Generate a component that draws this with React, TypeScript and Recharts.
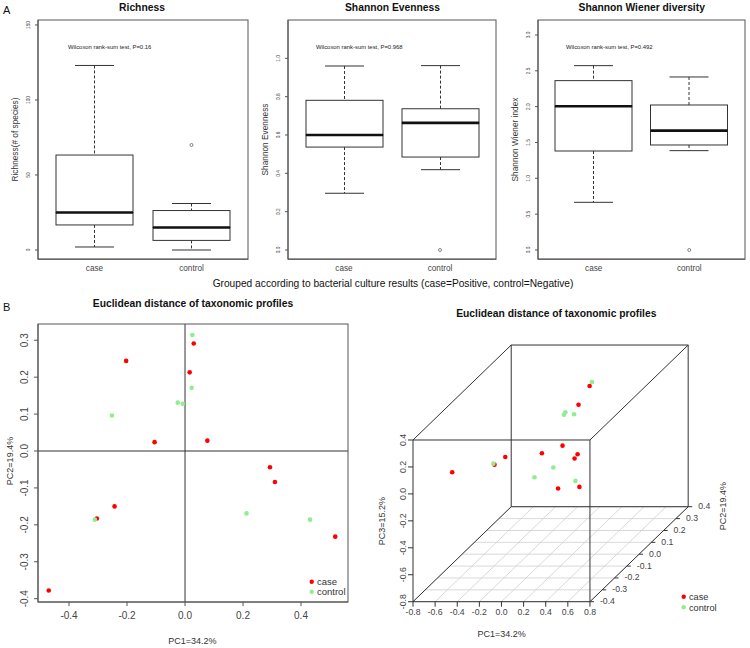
import React from 'react';
import {
  ComposedChart,
  ScatterChart,
  Bar,
  Scatter,
  XAxis,
  YAxis,
  ReferenceLine,
  Legend,
} from 'recharts';

const FONT = '"Liberation Sans", Arial, Helvetica, sans-serif';
const FRAME = '#555';
const INK = '#333';
const TICK_INK = '#444';
const CASE_COLOR = '#ff0000';
const CONTROL_COLOR = '#90ee90';

const groups = ['case', 'control'];

// boxplot stats per group: [lower whisker, Q1, median, Q3, upper whisker]
const richnessCase = [2, 16.7, 25, 63.3, 123];
const richnessControl = [0, 6.4, 15, 26.3, 31];
const richnessOutliers = [null, 70];
const richnessTicks = [0, 50, 100, 150];

const evennessCase = [0.296, 0.537, 0.6, 0.781, 0.96];
const evennessControl = [0.419, 0.485, 0.663, 0.737, 0.962];
const evennessOutliers = [null, 0];
const evennessTicks = [0, 0.2, 0.4, 0.6, 0.8, 1.0];

const wienerCase = [0.665, 1.381, 2.005, 2.363, 2.572];
const wienerControl = [1.386, 1.465, 1.665, 2.023, 2.414];
const wienerOutliers = [null, 0];
const wienerTicks = [0, 0.5, 1, 1.5, 2, 2.5, 3];

const pValues = ['0.16', '0.968', '0.492'];

// PCoA coordinates (PC1, PC2, PC3) per sample
const casePC1 = [-0.203, 0.03, 0.016, -0.105, 0.077, 0.293, 0.31, -0.243, -0.304, 0.518, -0.47];
const casePC2 = [0.244, 0.291, 0.213, 0.024, 0.028, -0.044, -0.084, -0.15, -0.183, -0.232, -0.378];
const casePC3 = [-0.527, 0.192, 0.122, -0.072, -0.019, -0.019, -0.016, 0.054, 0.026, -0.096, 0.141];

const controlPC1 = [0.025, 0.023, -0.025, -0.008, -0.252, -0.311, 0.212, 0.431];
const controlPC2 = [0.314, 0.171, 0.131, 0.128, 0.096, -0.186, -0.169, -0.186];
const controlPC3 = [0.201, 0.088, 0.12, 0.141, -0.313, 0.036, -0.008, -0.092];

const pc1Ticks = [-0.4, -0.2, 0, 0.2, 0.4];
const pc2Ticks = [-0.4, -0.3, -0.2, -0.1, 0, 0.1, 0.2, 0.3];
const pc1Ticks3d = [-0.8, -0.6, -0.4, -0.2, 0, 0.2, 0.4, 0.6, 0.8];
const pc2Ticks3d = [-0.4, -0.3, -0.2, -0.1, 0, 0.1, 0.2, 0.3, 0.4];
const pc3Ticks3d = [-0.8, -0.6, -0.4, -0.2, 0, 0.2, 0.4];

const fmt1 = (v: number) => v.toFixed(1);
const fmtInt = (v: number) => String(v);

// oblique projection used by the 3D box (depth = PC2)
const DU = 1.11;
const DV = 0.881;
const X3 = [-0.8, 0.8];
const Y3 = [-0.4, 0.4];
const Z3 = [-0.8, 0.4];
const proj = (x: number, y: number, z: number) => ({ u: x + (y - Y3[0]) * DU, v: z + (y - Y3[0]) * DV });

const RotTick = (props: any) => {
  const { x, y, payload, size, fmt } = props;
  return (
    <text x={x} y={y} transform={`rotate(-90 ${x} ${y})`} textAnchor="middle" fontSize={size} fill={TICK_INK} fontFamily={FONT}>
      {fmt(payload.value)}
    </text>
  );
};

const FlatTick = (props: any) => {
  const { x, y, payload, size, fmt } = props;
  return (
    <text x={x} y={y} dy="0.71em" textAnchor="middle" fontSize={size} fill={TICK_INK} fontFamily={FONT}>
      {fmt(payload.value)}
    </text>
  );
};

const CAP_W = 39;
const Empty = () => <g />;
const LowerWhisker = (p: any) => {
  const cx = p.x + p.width / 2;
  return (
    <g stroke={INK} strokeWidth={1}>
      <line x1={cx} x2={cx} y1={p.y} y2={p.y + p.height} strokeDasharray="3 2" />
      <line x1={cx - CAP_W / 2} x2={cx + CAP_W / 2} y1={p.y + p.height} y2={p.y + p.height} />
    </g>
  );
};
const UpperWhisker = (p: any) => {
  const cx = p.x + p.width / 2;
  return (
    <g stroke={INK} strokeWidth={1}>
      <line x1={cx} x2={cx} y1={p.y} y2={p.y + p.height} strokeDasharray="3 2" />
      <line x1={cx - CAP_W / 2} x2={cx + CAP_W / 2} y1={p.y} y2={p.y} />
    </g>
  );
};
const LowerBox = (p: any) => (
  <rect x={p.x} y={p.y} width={p.width} height={p.height} fill="#fff" stroke={INK} strokeWidth={1} />
);
const UpperBox = (p: any) => (
  <g>
    <rect x={p.x} y={p.y} width={p.width} height={p.height} fill="#fff" stroke={INK} strokeWidth={1} />
    <line x1={p.x} x2={p.x + p.width} y1={p.y + p.height} y2={p.y + p.height} stroke="#111" strokeWidth={2.6} />
  </g>
);
const Outlier = (p: any) =>
  p.payload == null || p.payload.out == null ? (
    <g />
  ) : (
    <circle cx={p.cx} cy={p.cy} r={1.5} fill="none" stroke="#666" strokeWidth={0.8} />
  );

const BoxPanel = ({ a, b, out, domain, ticks, fmt, right }: any) => {
  const rows = groups.map((name, i) => {
    const s = i === 0 ? a : b;
    return {
      name,
      base: s[0],
      lw: s[1] - s[0],
      lb: s[2] - s[1],
      ub: s[3] - s[2],
      uw: s[4] - s[3],
      out: out[i],
    };
  });
  return (
    <ComposedChart width={250} height={290} data={rows} margin={{ top: 20, right, bottom: 0, left: 0 }}>
      <XAxis
        dataKey="name"
        height={31}
        padding={{ left: 8, right: 8 }}
        tickLine={false}
        tickSize={0}
        tickMargin={5.7}
        stroke={FRAME}
        tick={<FlatTick size={8.2} fmt={(v: string) => v} />}
      />
      <YAxis
        type="number"
        domain={domain}
        ticks={ticks}
        interval={0}
        allowDataOverflow
        width={38}
        tickSize={3}
        tickMargin={5}
        stroke={FRAME}
        tick={<RotTick size={4.8} fmt={fmt} />}
      />
      <Bar dataKey="base" stackId="box" barSize={77} shape={Empty} isAnimationActive={false} />
      <Bar dataKey="lw" stackId="box" barSize={77} shape={LowerWhisker} isAnimationActive={false} />
      <Bar dataKey="lb" stackId="box" barSize={77} shape={LowerBox} isAnimationActive={false} />
      <Bar dataKey="ub" stackId="box" barSize={77} shape={UpperBox} isAnimationActive={false} />
      <Bar dataKey="uw" stackId="box" barSize={77} shape={UpperWhisker} isAnimationActive={false} />
      <Scatter dataKey="out" shape={Outlier} isAnimationActive={false} />
    </ComposedChart>
  );
};

const legendContent = (size: number, gap: number) => (props: any) => (
  <svg width={70} height={26} style={{ display: 'block', overflow: 'visible' }}>
    {(props.payload || [])
      .filter((e: any) => groups.includes(e.value))
      .map((e: any, i: number) => (
        <g key={e.value}>
          <circle cx={5.7} cy={6.7 + i * gap} r={2.2} fill={e.value === 'case' ? CASE_COLOR : CONTROL_COLOR} />
          <text x={11} y={6.7 + i * gap + 3.3} fontSize={size} fill={INK} fontFamily={FONT}>
            {e.value}
          </text>
        </g>
      ))}
  </svg>
);

const dot = (color: string) => (p: any) => <circle cx={p.cx} cy={p.cy} r={2.3} fill={color} />;

const case2d = casePC1.map((x, i) => ({ x, y: casePC2[i] }));
const control2d = controlPC1.map((x, i) => ({ x, y: controlPC2[i] }));

const case3d = casePC1.map((x, i) => proj(x, casePC2[i], casePC3[i]));
const control3d = controlPC1.map((x, i) => proj(x, controlPC2[i], controlPC3[i]));

const seg = (a: any, b: any) => [{ x: a.u, y: a.v }, { x: b.u, y: b.v }];
const floorLines = [
  ...pc1Ticks3d.map((t) => seg(proj(t, Y3[0], Z3[0]), proj(t, Y3[1], Z3[0]))),
  ...pc2Ticks3d.map((t) => seg(proj(X3[0], t, Z3[0]), proj(X3[1], t, Z3[0]))),
];
const cubeEdges: any[] = [];
Y3.forEach((y) => {
  cubeEdges.push(seg(proj(X3[0], y, Z3[0]), proj(X3[1], y, Z3[0])));
  cubeEdges.push(seg(proj(X3[0], y, Z3[1]), proj(X3[1], y, Z3[1])));
  cubeEdges.push(seg(proj(X3[0], y, Z3[0]), proj(X3[0], y, Z3[1])));
  cubeEdges.push(seg(proj(X3[1], y, Z3[0]), proj(X3[1], y, Z3[1])));
});
X3.forEach((x) => {
  Z3.forEach((z) => {
    cubeEdges.push(seg(proj(x, Y3[0], z), proj(x, Y3[1], z)));
  });
});
const pc2TickPoints = pc2Ticks3d.map((t) => ({ ...proj(X3[1], t, Z3[0]), label: fmt1(t) }));
const Pc2Tick = (p: any) => (
  <g>
    <line x1={p.cx} x2={p.cx + 4} y1={p.cy} y2={p.cy} stroke={INK} />
    <text x={p.cx + 10} y={p.cy + 2.5} fontSize={8.7} fill={TICK_INK} fontFamily={FONT}>
      {p.payload.label}
    </text>
  </g>
);

const Scatter2D = () => (
  <ScatterChart width={370} height={358} margin={{ top: 34, right: 22, bottom: 0, left: 0 }}>
    <XAxis
      type="number"
      dataKey="x"
      domain={[-0.507, 0.562]}
      ticks={pc1Ticks}
      allowDataOverflow
      height={46}
      tickSize={4}
      tickMargin={5.5}
      stroke={FRAME}
      tick={<FlatTick size={10} fmt={fmt1} />}
    />
    <YAxis
      type="number"
      dataKey="y"
      domain={[-0.409, 0.344]}
      ticks={pc2Ticks}
      interval={0}
      allowDataOverflow
      width={38}
      tickSize={4}
      tickMargin={6.4}
      stroke={FRAME}
      tick={<RotTick size={10} fmt={fmt1} />}
    />
    <ReferenceLine x={0} stroke={INK} />
    <ReferenceLine y={0} stroke={INK} />
    <Scatter name="case" data={case2d} fill={CASE_COLOR} shape={dot(CASE_COLOR)} isAnimationActive={false} />
    <Scatter name="control" data={control2d} fill={CONTROL_COLOR} shape={dot(CONTROL_COLOR)} isAnimationActive={false} />
    <Legend
      layout="horizontal"
      verticalAlign="middle"
      align="center"
      content={legendContent(9.5, 10)}
      wrapperStyle={{ left: 306, top: 285, width: 70, height: 26 }}
    />
  </ScatterChart>
);

const Scatter3D = () => (
  <ScatterChart width={380} height={358} margin={{ top: 55, right: 60.5, bottom: 0, left: 0 }}>
    <XAxis
      type="number"
      dataKey="u"
      domain={[-0.8, 1.7]}
      ticks={pc1Ticks3d}
      interval={0}
      axisLine={false}
      height={46.3}
      tickSize={5}
      tickMargin={2}
      stroke={INK}
      tick={<FlatTick size={8.7} fmt={fmt1} />}
    />
    <YAxis
      type="number"
      dataKey="v"
      domain={[-0.8, 1.105]}
      ticks={pc3Ticks3d}
      interval={0}
      axisLine={false}
      width={43}
      tickSize={5}
      tickMargin={1.6}
      stroke={INK}
      tick={<RotTick size={8.7} fmt={fmt1} />}
    />
    {floorLines.map((s, i) => (
      <ReferenceLine key={`f${i}`} segment={s} stroke="#cfcfcf" strokeWidth={0.8} ifOverflow="visible" />
    ))}
    {cubeEdges.map((s, i) => (
      <ReferenceLine key={`c${i}`} segment={s} stroke={INK} strokeWidth={1} ifOverflow="visible" />
    ))}
    <Scatter name="case" data={case3d} fill={CASE_COLOR} shape={dot(CASE_COLOR)} isAnimationActive={false} />
    <Scatter name="control" data={control3d} fill={CONTROL_COLOR} shape={dot(CONTROL_COLOR)} isAnimationActive={false} />
    <Scatter name="pc2" data={pc2TickPoints} legendType="none" shape={Pc2Tick} isAnimationActive={false} />
    <Legend
      layout="horizontal"
      verticalAlign="middle"
      align="center"
      content={legendContent(9.2, 10.6)}
      wrapperStyle={{ left: 307.6, top: 300, width: 70, height: 26 }}
    />
  </ScatterChart>
);

const boxTitles = ['Richness', 'Shannon Evenness', 'Shannon Wiener diversity'];
const boxYLabels = ['Richness(# of species)', 'Shannon Evenness', 'Shannon Wiener index'];

// plot-area frames (R's box())
const frames = [
  { x: 38, y: 20, w: 210, h: 239.3 },
  { x: 288, y: 20, w: 208, h: 239.3 },
  { x: 538, y: 20, w: 207, h: 239.3 },
  { x: 38, y: 324, w: 310, h: 278 },
];

export default function App() {
  const abs = (left: number, top: number): React.CSSProperties => ({ position: 'absolute', left, top });
  return (
    <div style={{ position: 'absolute', left: 0, top: 0, width: 750, height: 648, background: '#fff', fontFamily: FONT }}>
      <div style={abs(0, 0)}>
        <BoxPanel a={richnessCase} b={richnessControl} out={richnessOutliers} domain={[-6, 153.3]} ticks={richnessTicks} fmt={fmtInt} right={2} />
      </div>
      <div style={abs(250, 0)}>
        <BoxPanel a={evennessCase} b={evennessControl} out={evennessOutliers} domain={[-0.047, 1.2]} ticks={evennessTicks} fmt={fmt1} right={4} />
      </div>
      <div style={abs(500, 0)}>
        <BoxPanel a={wienerCase} b={wienerControl} out={wienerOutliers} domain={[-0.126, 3.209]} ticks={wienerTicks} fmt={fmt1} right={5} />
      </div>
      <div style={abs(0, 290)}>
        <Scatter2D />
      </div>
      <div style={abs(370, 290)}>
        <Scatter3D />
      </div>
      <svg width={750} height={648} style={{ position: 'absolute', left: 0, top: 0, pointerEvents: 'none' }} fontFamily={FONT}>
        {frames.map((f, i) => (
          <rect key={i} x={f.x} y={f.y} width={f.w} height={f.h} fill="none" stroke={FRAME} strokeWidth={1} />
        ))}
        <text x={3} y={14} fontSize={11} fill="#111">A</text>
        {boxTitles.map((t, i) => (
          <text key={t} x={[142, 392.5, 641.7][i]} y={10.5} fontSize={10.3} fontWeight="bold" textAnchor="middle" fill="#111">
            {t}
          </text>
        ))}
        {pValues.map((p, i) => (
          <text key={p} x={[68, 316, 566][i]} y={49} fontSize={5.9} fill="#222">
            {`Wilcoxon rank-sum test, P=${p}`}
          </text>
        ))}
        {boxYLabels.map((t, i) => {
          const x = [17.5, 267.5, 517.5][i];
          return (
            <text key={t} x={x} y={139.5} transform={`rotate(-90 ${x} 139.5)`} fontSize={8.3} textAnchor="middle" fill={INK}>
              {t}
            </text>
          );
        })}
        <text x={393} y={286.5} fontSize={10.2} textAnchor="middle" fill="#111">
          Grouped according to bacterial culture results (case=Positive, control=Negative)
        </text>
        <text x={3} y={311} fontSize={11} fill="#111">B</text>
        <text x={193} y={307.3} fontSize={10.3} fontWeight="bold" textAnchor="middle" fill="#111">
          Euclidean distance of taxonomic profiles
        </text>
        <text x={556.3} y={317} fontSize={10.3} fontWeight="bold" textAnchor="middle" fill="#111">
          Euclidean distance of taxonomic profiles
        </text>
        <text x={192.5} y={644} fontSize={9} textAnchor="middle" fill={INK}>PC1=34.2%</text>
        <text x={13.3} y={461} transform="rotate(-90 13.3 461)" fontSize={9} textAnchor="middle" fill={INK}>PC2=19.4%</text>
        <text x={501.7} y={637} fontSize={9} textAnchor="middle" fill={INK}>PC1=34.2%</text>
        <text x={385} y={521} transform="rotate(-90 385 521)" fontSize={9} textAnchor="middle" fill={INK}>PC3=15.2%</text>
        <text x={726} y={506} transform="rotate(-90 726 506)" fontSize={9} textAnchor="middle" fill={INK}>PC2=19.4%</text>
      </svg>
    </div>
  );
}
